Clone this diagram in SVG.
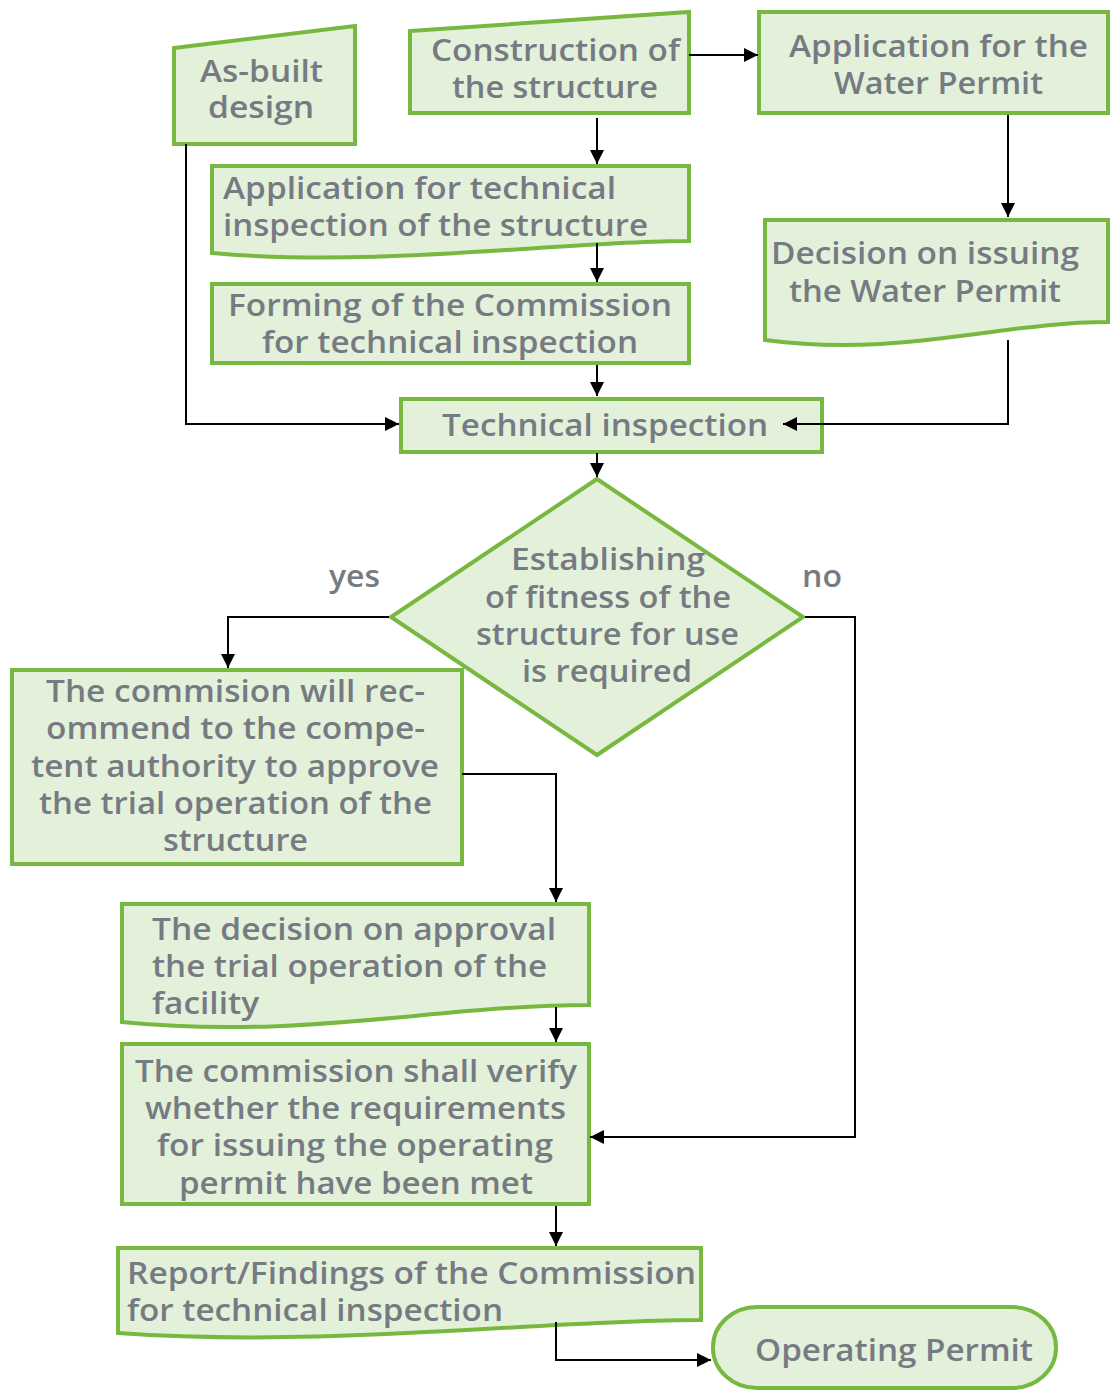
<svg xmlns="http://www.w3.org/2000/svg" width="1112" height="1390" viewBox="0 0 1112 1390">
  <style>
    .shape { fill: #e4f1da; stroke: #77b940; stroke-width: 4; stroke-linejoin: miter; }
    .lbl { font-family: "Open Sans", "Liberation Sans", sans-serif; font-weight: 600; font-size: 31px; fill: #767b83; }
    .wire { fill: none; stroke: #000; stroke-width: 2; }
  </style>
  <defs>
    <marker id="arrow" markerUnits="userSpaceOnUse" markerWidth="16" markerHeight="14" refX="14" refY="7" orient="auto">
      <path d="M0,0 L14,7 L0,14 z" fill="#000"/>
    </marker>
  </defs>

  <rect width="1112" height="1390" fill="#fff"/>

  <!-- As-built design (manual input) -->
  <g id="as-built">
    <path class="shape" d="M174,48 L355,26 V144 H174 Z"/>
    <text class="lbl" x="200" y="82" textLength="123" lengthAdjust="spacingAndGlyphs">As-built</text>
    <text class="lbl" x="208" y="118" textLength="106" lengthAdjust="spacingAndGlyphs">design</text>
  </g>

  <!-- Construction of the structure (manual input) -->
  <g id="construction">
    <path class="shape" d="M410,31 L689,12 V113 H410 Z"/>
    <text class="lbl" x="431" y="61" textLength="249" lengthAdjust="spacingAndGlyphs">Construction of</text>
    <text class="lbl" x="452" y="98" textLength="206" lengthAdjust="spacingAndGlyphs">the structure</text>
  </g>

  <!-- Application for the Water Permit -->
  <g id="water-application">
    <rect class="shape" x="759" y="12" width="349" height="101"/>
    <text class="lbl" x="789" y="57" textLength="299" lengthAdjust="spacingAndGlyphs">Application for the</text>
    <text class="lbl" x="834" y="94" textLength="209" lengthAdjust="spacingAndGlyphs">Water Permit</text>
  </g>

  <!-- Application for technical inspection (document) -->
  <g id="inspection-application">
    <path class="shape" d="M212,166 H689 V241 C560,241 380,268 212,253 Z"/>
    <text class="lbl" x="223" y="199" textLength="393" lengthAdjust="spacingAndGlyphs">Application for technical</text>
    <text class="lbl" x="223" y="236" textLength="425" lengthAdjust="spacingAndGlyphs">inspection of the structure</text>
  </g>

  <!-- Forming of the Commission -->
  <g id="commission-forming">
    <rect class="shape" x="212" y="284" width="477" height="79"/>
    <text class="lbl" x="228" y="316" textLength="444" lengthAdjust="spacingAndGlyphs">Forming of the Commission</text>
    <text class="lbl" x="262" y="353" textLength="376" lengthAdjust="spacingAndGlyphs">for technical inspection</text>
  </g>

  <!-- Decision on issuing the Water Permit (document) -->
  <g id="water-decision">
    <path class="shape" d="M765,220 H1108 V322 C1000,322 900,358 765,340 Z"/>
    <text class="lbl" x="771" y="264" textLength="308" lengthAdjust="spacingAndGlyphs">Decision on issuing</text>
    <text class="lbl" x="789" y="302" textLength="272" lengthAdjust="spacingAndGlyphs">the Water Permit</text>
  </g>

  <!-- Technical inspection -->
  <g id="technical-inspection">
    <rect class="shape" x="401" y="399" width="421" height="53"/>
    <text class="lbl" x="442" y="436" textLength="326" lengthAdjust="spacingAndGlyphs">Technical inspection</text>
  </g>

  <!-- Decision: fitness for use -->
  <g id="fitness-decision">
    <path class="shape" d="M597,479 L803,617 L597,755 L391,617 Z"/>
    <text class="lbl" x="511" y="570" textLength="194" lengthAdjust="spacingAndGlyphs">Establishing</text>
    <text class="lbl" x="485" y="608" textLength="246" lengthAdjust="spacingAndGlyphs">of fitness of the</text>
    <text class="lbl" x="476" y="645" textLength="263" lengthAdjust="spacingAndGlyphs">structure for use</text>
    <text class="lbl" x="522" y="682" textLength="170" lengthAdjust="spacingAndGlyphs">is required</text>
  </g>

  <!-- branch labels -->
  <g id="branch-labels">
    <text class="lbl" x="329" y="587" textLength="51" lengthAdjust="spacingAndGlyphs">yes</text>
    <text class="lbl" x="802" y="587" textLength="40" lengthAdjust="spacingAndGlyphs">no</text>
  </g>

  <!-- Commission recommendation -->
  <g id="recommendation">
    <rect class="shape" x="12" y="670" width="450" height="194"/>
    <text class="lbl" x="46" y="702" textLength="379" lengthAdjust="spacingAndGlyphs">The commision will rec-</text>
    <text class="lbl" x="46" y="739" textLength="379" lengthAdjust="spacingAndGlyphs">ommend to the compe-</text>
    <text class="lbl" x="31" y="777" textLength="408" lengthAdjust="spacingAndGlyphs">tent authority to approve</text>
    <text class="lbl" x="39" y="814" textLength="393" lengthAdjust="spacingAndGlyphs">the trial operation of the</text>
    <text class="lbl" x="163" y="851" textLength="145" lengthAdjust="spacingAndGlyphs">structure</text>
  </g>

  <!-- Decision on trial operation (document) -->
  <g id="trial-decision">
    <path class="shape" d="M122,904 H589 V1005 C440,1005 300,1040 122,1022 Z"/>
    <text class="lbl" x="152" y="940" textLength="404" lengthAdjust="spacingAndGlyphs">The decision on approval</text>
    <text class="lbl" x="152" y="977" textLength="395" lengthAdjust="spacingAndGlyphs">the trial operation of the</text>
    <text class="lbl" x="152" y="1014" textLength="107" lengthAdjust="spacingAndGlyphs">facility</text>
  </g>

  <!-- Commission verification -->
  <g id="verification">
    <rect class="shape" x="122" y="1044" width="467" height="160"/>
    <text class="lbl" x="135" y="1082" textLength="442" lengthAdjust="spacingAndGlyphs">The commission shall verify</text>
    <text class="lbl" x="145" y="1119" textLength="421" lengthAdjust="spacingAndGlyphs">whether the requirements</text>
    <text class="lbl" x="157" y="1156" textLength="396" lengthAdjust="spacingAndGlyphs">for issuing the operating</text>
    <text class="lbl" x="179" y="1194" textLength="354" lengthAdjust="spacingAndGlyphs">permit have been met</text>
  </g>

  <!-- Report / Findings (document) -->
  <g id="report">
    <path class="shape" d="M118,1248 H701 V1320 C540,1320 330,1348 118,1333 Z"/>
    <text class="lbl" x="127" y="1284" textLength="569" lengthAdjust="spacingAndGlyphs">Report/Findings of the Commission</text>
    <text class="lbl" x="127" y="1321" textLength="376" lengthAdjust="spacingAndGlyphs">for technical inspection</text>
  </g>

  <!-- Operating Permit (terminator) -->
  <g id="operating-permit">
    <rect class="shape" x="713" y="1307" width="343" height="81" rx="44" ry="40"/>
    <text class="lbl" x="755" y="1361" textLength="278" lengthAdjust="spacingAndGlyphs">Operating Permit</text>
  </g>

  <!-- connectors, drawn over the shapes -->
  <g id="connectors" class="wire" marker-end="url(#arrow)">
    <path d="M689,55 H758"/>
    <path d="M597,118 V164"/>
    <path d="M1008,115 V217"/>
    <path d="M597,243 V282"/>
    <path d="M597,365 V396"/>
    <path d="M186,144 V424 H399"/>
    <path d="M1008,340 V424 H783"/>
    <path d="M597,453 V477"/>
    <path d="M389,617 H228 V668"/>
    <path d="M462,774 H556 V902"/>
    <path d="M805,617 H855 V1137 H590"/>
    <path d="M556,1007 V1042"/>
    <path d="M556,1206 V1246"/>
    <path d="M556,1322 V1360 H711"/>
  </g>
</svg>
